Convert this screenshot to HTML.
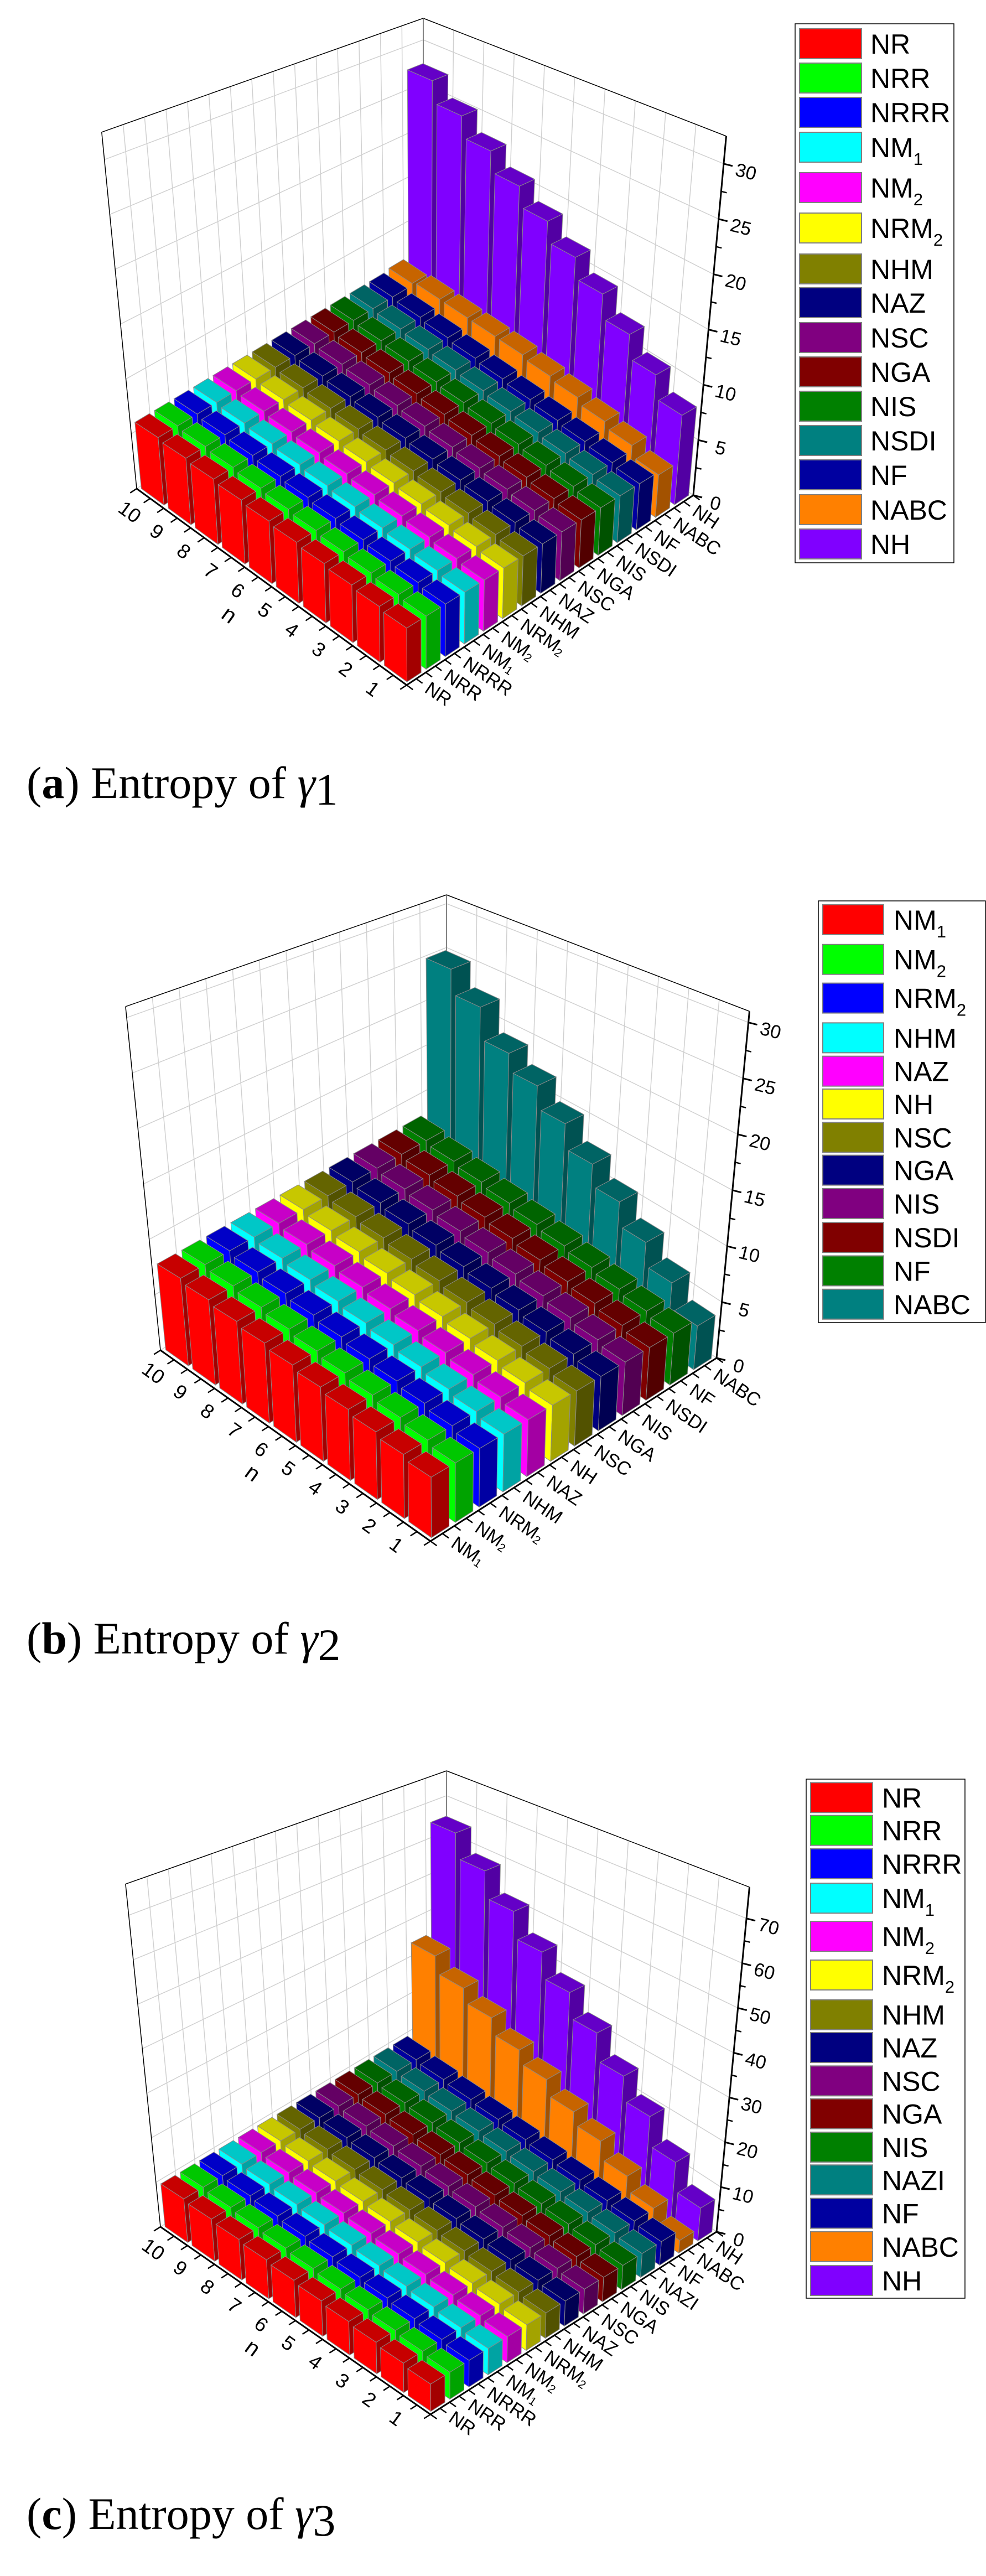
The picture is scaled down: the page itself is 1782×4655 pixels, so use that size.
<!DOCTYPE html>
<html><head><meta charset="utf-8">
<style>
html,body{margin:0;padding:0;background:#fff;}
svg{display:block;}
</style></head>
<body>
<svg id="s" xmlns="http://www.w3.org/2000/svg" width="1782" height="4655" viewBox="0 0 1782 4655" font-family="Liberation Sans, Arial, sans-serif"></svg>
<script>
const S=document.getElementById('s');
let out='';
const COL={NR:'#ff0000',NRR:'#00ff00',NRRR:'#0000ff',NM_1:'#00ffff',NM_2:'#ff00ff',NRM_2:'#ffff00',NHM:'#808000',NAZ:'#000080',NSC:'#800080',NGA:'#800000',NIS:'#008000',NSDI:'#008080',NF:'#0000a0',NABC:'#ff8000',NH:'#8000ff',NAZI:'#008080'};
function shade(h,f){const r=parseInt(h.substr(1,2),16),g=parseInt(h.substr(3,2),16),b=parseInt(h.substr(5,2),16);return 'rgb('+Math.round(r*f)+','+Math.round(g*f)+','+Math.round(b*f)+')';}
function lab(s,fs,sub){
  const i=s.indexOf('_'); if(i<0) return s;
  return s.slice(0,i)+'<tspan font-size="'+(fs*0.62)+'" dy="'+sub+'">'+s.slice(i+1)+'</tspan>';
}
const charts=[
 {off:0,yf:0.957,F:[735,1238],L:[247,883],R:[1253,895],Hb:507,k:0.40,dxc:0.122,vmax:32.5,ticks:[0,5,10,15,20,25,30],
  cats:['NR','NRR','NRRR','NM_1','NM_2','NRM_2','NHM','NAZ','NSC','NGA','NIS','NSDI','NF','NABC','NH'],
  colors:null,small:[0.124,0.186],tall:{13:[490,520,555,590,625,665,705,750,795,850],14:[120,185,250,315,380,447,515,590,665,740]},
  legend:{box:[1437,43,1724,1017],sx:[1445,1557],tx:1573,cy:[79,141,203,266,339,412,486,547,610,672,734,796,858,921,983]},
  cap:{y:1442,l:'a',g:'1'}},
 {off:1550,yf:0.957,F:[778,2785],L:[290,2440],R:[1295,2454],Hb:492,k:0.39,dxc:0.122,vmax:31,ticks:[0,5,10,15,20,25,30],
  cats:['NM_1','NM_2','NRM_2','NHM','NAZ','NH','NSC','NGA','NIS','NSDI','NF','NABC'],
  colors:['#ff0000','#00ff00','#0000ff','#00ffff','#ff00ff','#ffff00','#808000','#000080','#800080','#800000','#008000','#008080'],
  small:[0.145,0.25],tall:{11:[175,245,330,390,460,535,605,680,755,835]},
  legend:{box:[1479,1628,1781,2390],sx:[1487,1597],tx:1615,cy:[117,192,265,340,403,465,528,590,653,717,780,843].map(v=>1550+v*0.957)},
  cap:{y:2988,l:'b',g:'2'}},
 {off:3100,yf:0.957,F:[778,4363],L:[290,4024],R:[1295,4033],Hb:494,k:0.38,dxc:0.122,vmax:77,ticks:[0,10,20,30,40,50,60,70],
  cats:['NR','NRR','NRRR','NM_1','NM_2','NRM_2','NHM','NAZ','NSC','NGA','NIS','NAZI','NF','NABC','NH'],
  colors:null,small:[0.066,0.125],tall:{13:[415,475,530,590,645,705,760,825,885,945],14:[190,260,335,410,485,560,640,715,800,885]},
  legend:{box:[1457,3215,1744,4153],sx:[1465,1577],tx:1594,cy:[155,217,280,345,417,490,565,627,690,752,815,877,940,1003,1067].map(v=>3100+v*0.957)},
  cap:{y:4570,l:'c',g:'3'}}
];
function draw(c){
  const nc=c.cats.length;
  const F=c.F, rv=[(c.L[0]-F[0])/10,(c.L[1]-F[1])/10], cv=[(c.R[0]-F[0])/nc,(c.R[1]-F[1])/nc];
  const B=[c.L[0]+c.R[0]-F[0], c.L[1]+c.R[1]-F[1]];
  function P(n,j){return [F[0]+n*rv[0]+j*cv[0],F[1]+n*rv[1]+j*cv[1]];}
  function pr(n,j,t){const p=P(n,j);const Sh=c.Hb+c.k*(p[1]-B[1]);return [p[0]+t*c.dxc*(p[0]-B[0]), p[1]-t*Sh];}
  function pt(a){return a[0].toFixed(1)+','+a[1].toFixed(1);}
  function line(a,b,st,w){out+='<line x1="'+a[0].toFixed(1)+'" y1="'+a[1].toFixed(1)+'" x2="'+b[0].toFixed(1)+'" y2="'+b[1].toFixed(1)+'" stroke="'+st+'" stroke-width="'+w+'"/>';}
  for(let j=0;j<=nc;j++) line(pr(10,j,0),pr(10,j,1),'#d0d0d0',1.5);
  for(let n=0;n<=10;n++) line(pr(n,nc,0),pr(n,nc,1),'#d0d0d0',1.5);
  for(const v of c.ticks){const t=v/c.vmax; line(pr(10,0,t),pr(10,nc,t),'#d0d0d0',1.5); line(pr(10,nc,t),pr(0,nc,t),'#d0d0d0',1.5);}
  line(pr(10,0,1),pr(10,nc,1),'#000',1.5); line(pr(10,nc,1),pr(0,nc,1),'#000',1.5);
  line(pr(10,0,0),pr(10,0,1),'#000',1.5); line(pr(10,nc,0),pr(10,nc,1),'#666',1.5);
  const bars=[];
  for(let n=1;n<=10;n++)for(let j=0;j<nc;j++){
    let t;
    if(c.tall[j]){const yp=c.tall[j][10-n];const yt=c.off+yp*c.yf;const p=P(n-0.08,j+0.875);const Sh=c.Hb+c.k*(p[1]-B[1]);t=(p[1]-yt)/Sh;}
    else t=c.small[0]+(n-1)*(c.small[1]-c.small[0])/9;
    bars.push({n,j,t});
  }
  bars.sort((a,b)=>(b.n+b.j)-(a.n+a.j)||b.j-a.j);
  for(const b of bars){
    const col=c.colors?c.colors[b.j]:COL[c.cats[b.j]];
    const n0=b.n-1+0.08,n1=b.n-0.08,j0=b.j+0.13,j1=b.j+0.87,t=b.t;
    const st=' stroke="#8a8a8a" stroke-width="1"';
    out+='<polygon points="'+[pr(n0,j0,0),pr(n1,j0,0),pr(n1,j0,t),pr(n0,j0,t)].map(pt).join(' ')+'" fill="'+col+'"'+st+'/>';
    out+='<polygon points="'+[pr(n0,j0,0),pr(n0,j1,0),pr(n0,j1,t),pr(n0,j0,t)].map(pt).join(' ')+'" fill="'+shade(col,0.64)+'"'+st+'/>';
    out+='<polygon points="'+[pr(n0,j0,t),pr(n1,j0,t),pr(n1,j1,t),pr(n0,j1,t)].map(pt).join(' ')+'" fill="'+shade(col,0.78)+'"'+st+'/>';
  }
  line(F,c.L,'#000',3); line(F,c.R,'#000',3);
  const rl=Math.hypot(rv[0],rv[1]), cl=Math.hypot(cv[0],cv[1]);
  const u=[-rv[0]/rl,-rv[1]/rl], o=[-cv[0]/cl,-cv[1]/cl];
  for(let n=0;n<=10;n+=0.5){const a=P(n,0);line(a,[a[0]+o[0]*14,a[1]+o[1]*14],'#000',2.5);}
  for(let j=0;j<=nc;j+=0.5){const a=P(0,j);line(a,[a[0]+u[0]*14,a[1]+u[1]*14],'#000',2.5);}
  for(let n=1;n<=10;n++){const a=P(n-0.5,0);const x=a[0]+o[0]*44,y=a[1]+o[1]*44;
    out+='<text x="'+x.toFixed(1)+'" y="'+y.toFixed(1)+'" font-size="36" text-anchor="middle" dominant-baseline="central" transform="rotate(36 '+x.toFixed(1)+' '+y.toFixed(1)+')">'+n+'</text>';}
  {const a=P(5,0);const x=a[0]+o[0]*92,y=a[1]+o[1]*92;
    out+='<text x="'+x.toFixed(1)+'" y="'+y.toFixed(1)+'" font-size="40" text-anchor="middle" dominant-baseline="central" transform="rotate(36 '+x.toFixed(1)+' '+y.toFixed(1)+')">n</text>';}
  for(let j=0;j<nc;j++){const a=P(0,j+0.5);const x=a[0]+u[0]*24,y=a[1]+u[1]*24;
    out+='<text x="'+x.toFixed(1)+'" y="'+y.toFixed(1)+'" font-size="34" dominant-baseline="central" transform="rotate(34 '+x.toFixed(1)+' '+y.toFixed(1)+')">'+lab(c.cats[j],34,8)+'</text>';}
  const z0=pr(0,nc,0), z1=pr(0,nc,1);
  line(z0,z1,'#000',3);
  for(const v of c.ticks){const a=pr(0,nc,v/c.vmax);line(a,[a[0]+16,a[1]+4],'#000',3);
    const x=a[0]+40,y=a[1]+15;
    out+='<text x="'+x.toFixed(1)+'" y="'+y.toFixed(1)+'" font-size="34" text-anchor="middle" dominant-baseline="central" transform="rotate(14 '+x.toFixed(1)+' '+y.toFixed(1)+')">'+v+'</text>';}
  for(let i=0;i<c.ticks.length-1;i++){const v=(c.ticks[i]+c.ticks[i+1])/2;const a=pr(0,nc,v/c.vmax);line(a,[a[0]+10,a[1]+2.5],'#000',2.5);}
  const lg=c.legend;
  out+='<rect x="'+lg.box[0]+'" y="'+lg.box[1]+'" width="'+(lg.box[2]-lg.box[0])+'" height="'+(lg.box[3]-lg.box[1])+'" fill="#fff" stroke="#000" stroke-width="1.5"/>';
  c.cats.forEach((nm,i)=>{const cy=lg.cy[i];const col=c.colors?c.colors[i]:COL[nm];
    out+='<rect x="'+lg.sx[0]+'" y="'+(cy-27)+'" width="'+(lg.sx[1]-lg.sx[0])+'" height="54" fill="'+col+'" stroke="#808080" stroke-width="2"/>';
    out+='<text x="'+lg.tx+'" y="'+(cy+18)+'" font-size="50">'+lab(nm,50,14)+'</text>';});
  out+='<text x="48" y="'+c.cap.y+'" font-family="Liberation Serif, serif" font-size="82">(<tspan font-weight="bold">'+c.cap.l+'</tspan>) Entropy of <tspan font-style="italic">γ</tspan><tspan dy="12">'+c.cap.g+'</tspan></text>';
}
charts.forEach(draw);
S.innerHTML=out;
</script>
</body></html>
